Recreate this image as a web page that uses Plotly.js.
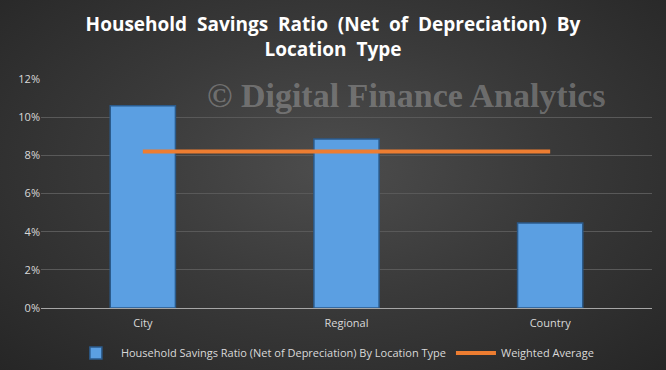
<!DOCTYPE html>
<html>
<head>
<meta charset="utf-8">
<script src="https://cdn.plot.ly/plotly-3.0.1.min.js"></script>
<style>
html,body{margin:0;padding:0;}
#chart{width:666px;height:370px;background:radial-gradient(ellipse at 50% 45%, #4d4d4d 0%, #3a3a3a 45%, #262626 100%);}
</style>
</head>
<body>
<div id="chart"></div>
<script>
const categories = ["City", "Regional", "Country"];
const savingsRatio = [0.106, 0.0885, 0.0445];
const weightedAverage = [0.082, 0.082, 0.082];
const yTickVals = [0, 0.02, 0.04, 0.06, 0.08, 0.10, 0.12];
const yTickText = ["0%", "2%", "4%", "6%", "8%", "10%", "12%"];

const traces = [
  {
    type: "bar",
    x: categories,
    y: savingsRatio,
    name: "Household Savings Ratio (Net of Depreciation) By Location Type",
    marker: {color: "#5b9fe2", line: {color: "#2b5a8a", width: 1.5}},
    hoverinfo: "skip"
  },
  {
    type: "scatter",
    mode: "lines",
    x: categories,
    y: weightedAverage,
    name: "Weighted Average",
    line: {color: "#ed7d31", width: 4},
    hoverinfo: "skip"
  }
];

const layout = {
  width: 666, height: 370,
  paper_bgcolor: "rgba(0,0,0,0)",
  plot_bgcolor: "rgba(0,0,0,0)",
  margin: {l: 41, r: 14, t: 79, b: 62, autoexpand: false},
  font: {family: "Open Sans, Liberation Sans, sans-serif", color: "#d9d9d9", size: 11},
  title: {
    text: "Household  Savings  Ratio  (Net  of  Depreciation)  By<br>Location  Type",
    font: {family: "Open Sans, Liberation Sans, sans-serif", size: 19, color: "#ffffff", weight: "bold"},
    x: 0.5, xanchor: "center", y: 0.916, yanchor: "top"
  },
  bargap: 0.68,
  showlegend: true,
  legend: {
    orientation: "h", x: 0.481, xanchor: "center", yref: "container", y: 0.046, yanchor: "middle",
    font: {size: 11, color: "#d9d9d9"}, bgcolor: "rgba(0,0,0,0)",
    traceorder: "normal", itemwidth: 40
  },
  xaxis: {
    showgrid: false, showline: true, linecolor: "#a6a6a6", linewidth: 1,
    ticks: "", ticklabelstandoff: 5, tickfont: {size: 11, color: "#d9d9d9"}, fixedrange: true
  },
  yaxis: {
    range: [0, 0.12], tickvals: yTickVals, ticktext: yTickText,
    showgrid: true, gridcolor: "#595959", gridwidth: 1,
    zeroline: true, zerolinecolor: "#a6a6a6", zerolinewidth: 1,
    showline: false, ticks: "", ticklen: 0,
    tickfont: {size: 11, color: "#d9d9d9"}, fixedrange: true
  },
  annotations: [{
    text: "© Digital Finance Analytics",
    xref: "paper", yref: "paper", x: 0.597, y: 0.93, xanchor: "center", yanchor: "middle",
    showarrow: false,
    font: {family: "Liberation Serif, DejaVu Serif, serif", size: 34, color: "rgba(190,190,190,0.4)", weight: "bold"}
  }]
};

Plotly.newPlot("chart", traces, layout, {displayModeBar: false, staticPlot: true});
</script>
</body>
</html>
